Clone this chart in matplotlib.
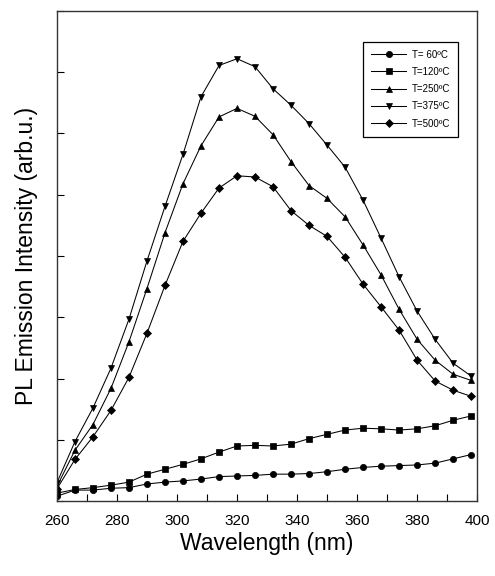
import matplotlib
matplotlib.use("Agg")
import matplotlib.pyplot as plt
from matplotlib.ticker import MultipleLocator, NullFormatter

plt.rcParams['font.family'] = ['Liberation Sans', 'DejaVu Sans']

# wavelength (nm), measured every 6 nm
wavelength = [260, 266, 272, 278, 284, 290, 296, 302, 308, 314, 320, 326,
              332, 338, 344, 350, 356, 362, 368, 374, 380, 386, 392, 398]

t60 = [0.08, 0.18, 0.18, 0.21, 0.22, 0.28, 0.31, 0.33, 0.36, 0.40, 0.41, 0.42,
       0.44, 0.44, 0.45, 0.48, 0.52, 0.55, 0.57, 0.58, 0.59, 0.62, 0.69, 0.76]
t120 = [0.13, 0.19, 0.22, 0.26, 0.31, 0.44, 0.52, 0.60, 0.69, 0.80, 0.90, 0.91,
        0.90, 0.93, 1.02, 1.09, 1.16, 1.19, 1.18, 1.16, 1.18, 1.23, 1.32, 1.39]
t250 = [0.24, 0.83, 1.25, 1.84, 2.60, 3.47, 4.38, 5.18, 5.80, 6.27, 6.41, 6.28,
        5.98, 5.54, 5.15, 4.94, 4.64, 4.18, 3.69, 3.13, 2.64, 2.30, 2.07, 1.97]
t375 = [0.30, 0.97, 1.52, 2.17, 2.97, 3.92, 4.81, 5.66, 6.60, 7.11, 7.22, 7.09,
        6.73, 6.46, 6.16, 5.81, 5.45, 4.91, 4.29, 3.66, 3.10, 2.64, 2.25, 2.04]
t500 = [0.20, 0.68, 1.05, 1.48, 2.02, 2.74, 3.52, 4.24, 4.70, 5.11, 5.31, 5.29,
        5.13, 4.74, 4.50, 4.32, 3.98, 3.54, 3.17, 2.79, 2.30, 1.96, 1.81, 1.71]

labels = ["T= 60ºC", "T=120ºC", "T=250ºC", "T=375ºC", "T=500ºC"]
series = [t60, t120, t250, t375, t500]
markers = ['o', 's', '^', 'v', 'D']
sizes = [4.5, 4.5, 5, 5, 4.5]

fig = plt.figure(figsize=(4.95, 5.76), dpi=100)
ax = fig.add_axes([0.115, 0.130, 0.849, 0.851])

for ys, lab, m, s in zip(series, labels, markers, sizes):
    ax.plot(wavelength, ys, color='black', lw=0.75, marker=m, ms=s,
            markeredgewidth=0.5, label=lab)

ax.set_xlim(260, 400)
ax.set_ylim(0, 8)
ax.xaxis.set_major_locator(MultipleLocator(20))
ax.xaxis.set_minor_locator(MultipleLocator(10))
ax.yaxis.set_major_locator(MultipleLocator(1))
ax.yaxis.set_major_formatter(NullFormatter())
ax.tick_params(axis='both', which='both', direction='in', length=5,
               width=0.8, labelsize=11)
ax.tick_params(axis='x', pad=9)
ax.tick_params(axis='y', left=True, right=False)
ax.tick_params(axis='x', top=False)
for sp in ax.spines.values():
    sp.set_color('#333333')
    sp.set_linewidth(1.0)

ax.set_xlabel("Wavelength (nm)", fontsize=16.5, labelpad=3)
ax.set_ylabel("PL Emission Intensity (arb.u.)", fontsize=16.5, labelpad=10)

leg = ax.legend(loc='upper left', bbox_to_anchor=(0.729, 0.937),
                borderaxespad=0, fontsize=7, handlelength=3.6,
                fancybox=False, edgecolor='black', framealpha=1,
                labelspacing=0.75, borderpad=0.8, handletextpad=0.6)
leg.get_frame().set_linewidth(0.9)

fig.savefig("out.png", dpi=100)
